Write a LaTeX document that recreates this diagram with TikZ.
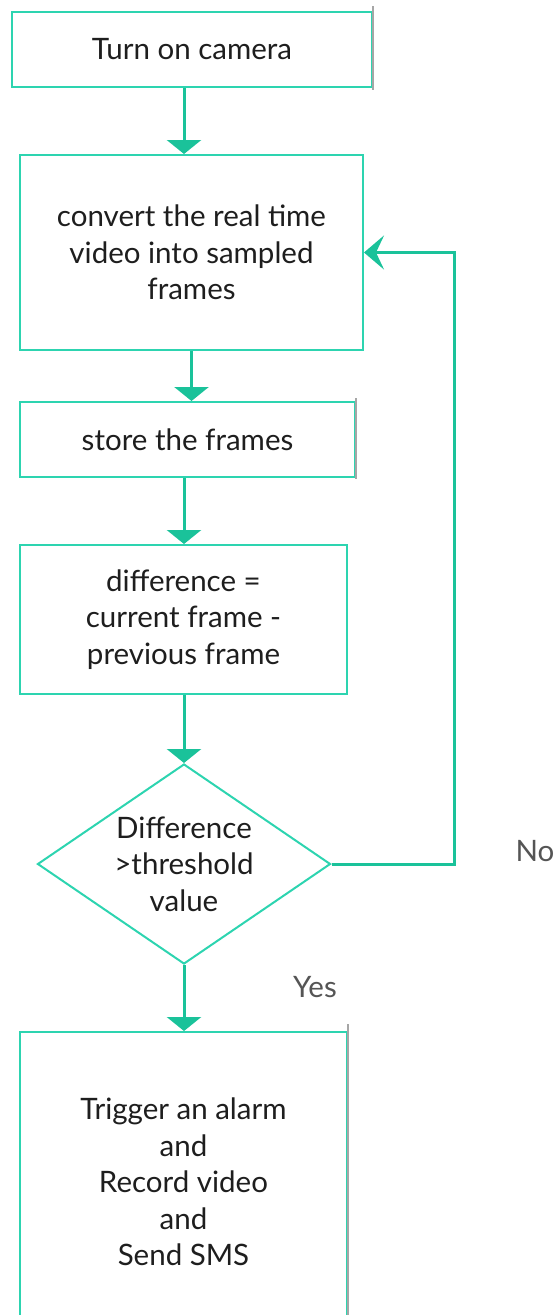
\documentclass[tikz,border=0pt]{standalone}
\usepackage{fontspec}
\setmainfont{Lato}
\usetikzlibrary{arrows.meta,
                calc,
                positioning,
                shapes.geometric}
\definecolor{tealline}{RGB}{45,212,176}
\definecolor{tealarrow}{RGB}{26,194,154}
\definecolor{boxtext}{RGB}{30,30,30}
\definecolor{labeltext}{RGB}{85,85,85}

\begin{document}
\begin{tikzpicture}[x=1pt, y=-1pt,
            font=\fontsize{29.5}{36.5}\selectfont,
            base/.style = {draw=tealline, line width=2pt, text=boxtext,
                    align=center, inner sep=0pt},
            process/.style = {base, rectangle},
            decision/.style = {base, diamond, minimum width=293pt, minimum height=200pt},
            shadow/.style = {draw=gray!70, line width=2.5pt},
            flow/.style = {draw=tealarrow, line width=3pt,
                    -{Triangle[width=34pt, length=14pt]}},
            back/.style = {draw=tealarrow, line width=3pt,
                    -{Stealth[width=34pt, length=20pt, inset=8pt]}},
            answer/.style = {text=labeltext}]
        \useasboundingbox (0,0) rectangle (558,1315);

        \node [process, minimum width=360pt, minimum height=75pt]
            (cam) at (192,49.5) {Turn on camera}; % A-1
        \node [process, minimum width=343pt, minimum height=195pt]
            (conv) at (191.5,252.5) {convert the real time\\video into sampled\\frames}; % A-2
        \node [process, minimum width=335pt, minimum height=75pt]
            (store) at (187.5,439.5) {store the frames}; % A-3
        \node [process, minimum width=327pt, minimum height=149pt]
            (diff) at (183.5,619.5) {difference =\\current frame -\\previous frame}; % A-4
        \node [decision] (dec) at (184,864) {}; % A-5
        \node [text=boxtext, align=center] (dectext) at (dec) {Difference\\>threshold\\value};
        \node [process, minimum width=327pt, minimum height=300pt]
            (alarm) at (183.5,1182) {Trigger an alarm\\and\\Record video\\and\\Send SMS}; % A-6

        % gray right edges
        \draw [shadow] ([yshift=5pt] cam.north east) -- ([yshift=-2pt] cam.south east);
        \draw [shadow] ([yshift=3pt] store.north east) -- ([yshift=-1pt] store.south east);
        \draw [shadow] ([yshift=7pt] alarm.north east) -- (alarm.south east);

        % answers
        \node [answer] (no)  at (535,851) {No};
        \node [answer] (yes) at (315,987) {Yes};

        %%
        \draw [flow] (cam.south -| dec.north) -- (conv.north -| dec.north);
        \draw [flow] (conv.south) -- (store.north -| conv.south);
        \draw [flow] (store.south -| dec.north) -- (diff.north -| dec.north);
        \draw [flow] (diff.south -| dec.north) -- (dec.north);
        \draw [flow] (dec.south) -- (alarm.north -| dec.south);
        \coordinate (loop) at (454,864);
        \draw [back] (dec.east) -- (loop) |- (conv.east);
    \end{tikzpicture}
\end{document}
